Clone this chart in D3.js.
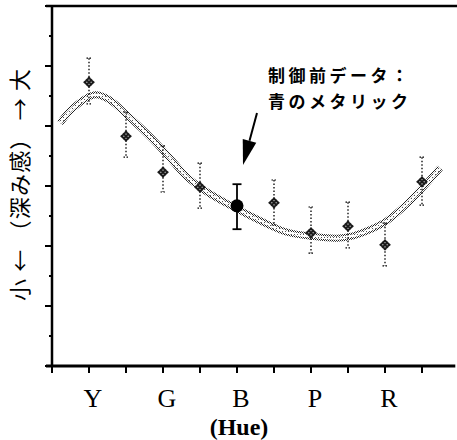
<!DOCTYPE html>
<html>
<head>
<meta charset="utf-8">
<script src="https://cdn.jsdelivr.net/npm/d3@7"></script>
<style>
  body { margin: 0; background: #fff; }
</style>
</head>
<body>
<div id="canvas"></div>
<script>
// hue categories (label every other tick)
var hueLabels = ["Y", "G", "B", "P", "R"];
var hueTicks  = [1, 3, 5, 7, 9];

// measured points, x = tick index
var ptX  = [1, 2, 3, 4, 5, 6, 7, 8, 9, 10];
var ptY  = [4.73, 3.83, 3.23, 2.98, 2.67, 2.72, 2.22, 2.33, 2.02, 3.07];
var ptLo = [4.37, 3.48, 2.90, 2.63, 2.28, 2.35, 1.88, 1.97, 1.67, 2.68];
var ptHi = [5.13, 4.23, 3.67, 3.38, 3.03, 3.10, 2.65, 2.73, 2.38, 3.48];
var refIndex = 4; // 制御前データ (blue metallic)

// fitted curve
var fitX = [0.22, 0.57, 1.16, 1.57, 2.03, 2.65, 3.11, 3.65, 4.19, 4.81, 5.70, 6.35, 7.05, 7.70, 8.14, 8.59, 9.05, 9.54, 10.03, 10.49];
var fitY = [4.05, 4.30, 4.52, 4.43, 4.18, 3.82, 3.52, 3.15, 2.90, 2.68, 2.40, 2.23, 2.16, 2.13, 2.17, 2.27, 2.42, 2.67, 2.98, 3.30];

var yMajor = [0, 1, 2, 3, 4, 5, 6];
var yMinor = [0.5, 1.5, 2.5, 3.5, 4.5, 5.5];
var xTicks = [0, 1, 2, 3, 4, 5, 6, 7, 8, 9, 10];

var W = 457, H = 440;
var svg = d3.select('#canvas').append('svg')
  .attr('width', W)
  .attr('height', H);

var x = d3.scaleLinear().domain([0, 11]).range([52, 459]);
var y = d3.scaleLinear().domain([0, 6]).range([366, 6]);

var defs = svg.append('defs');
var checker = defs.append('pattern')
  .attr('id', 'checker').attr('patternUnits', 'userSpaceOnUse')
  .attr('width', 2).attr('height', 2);
checker.append('rect').attr('width', 2).attr('height', 2).attr('fill', '#fff');
checker.append('rect').attr('width', 1).attr('height', 1).attr('fill', '#222');
checker.append('rect').attr('x', 1).attr('y', 1).attr('width', 1).attr('height', 1).attr('fill', '#222');

var sparse = defs.append('pattern')
  .attr('id', 'sparse').attr('patternUnits', 'userSpaceOnUse')
  .attr('width', 3).attr('height', 3);
sparse.append('rect').attr('width', 3).attr('height', 3).attr('fill', '#fff');
sparse.append('rect').attr('width', 1).attr('height', 1).attr('fill', '#555');

var dots = defs.append('pattern')
  .attr('id', 'dots').attr('patternUnits', 'userSpaceOnUse')
  .attr('width', 3).attr('height', 3);
dots.append('rect').attr('width', 3).attr('height', 3).attr('fill', '#1a1a1a');
dots.append('rect').attr('x', 1).attr('y', 1).attr('width', 1).attr('height', 1).attr('fill', '#fff');

// frame: left axis, top line, bottom axis
svg.append('line')
  .attr('x1', x(0)).attr('y1', y(6)).attr('x2', x(0)).attr('y2', y(0))
  .attr('stroke', '#000').attr('stroke-width', 2.5);
svg.append('line')
  .attr('x1', 46).attr('y1', y(6)).attr('x2', W).attr('y2', y(6))
  .attr('stroke', '#000').attr('stroke-width', 2.5);
svg.append('line')
  .attr('x1', 46).attr('y1', y(0)).attr('x2', x(10.9)).attr('y2', y(0))
  .attr('stroke', '#000').attr('stroke-width', 3);

svg.selectAll('line.ymaj').data(yMajor).enter().append('line')
  .attr('class', 'ymaj')
  .attr('x1', 45).attr('x2', x(0))
  .attr('y1', function (d) { return y(d); })
  .attr('y2', function (d) { return y(d); })
  .attr('stroke', '#000').attr('stroke-width', 2);
svg.selectAll('line.ymin').data(yMinor).enter().append('line')
  .attr('class', 'ymin')
  .attr('x1', 49).attr('x2', x(0))
  .attr('y1', function (d) { return y(d); })
  .attr('y2', function (d) { return y(d); })
  .attr('stroke', '#000').attr('stroke-width', 2);

svg.selectAll('line.xt').data(xTicks).enter().append('line')
  .attr('class', 'xt')
  .attr('x1', function (d) { return x(d); })
  .attr('x2', function (d) { return x(d); })
  .attr('y1', y(0)).attr('y2', y(0) + 7)
  .attr('stroke', '#000').attr('stroke-width', 2);

svg.selectAll('text.hue').data(hueTicks).enter().append('text')
  .attr('class', 'hue')
  .attr('x', function (d) { return x(d) + 4; })
  .attr('y', 407)
  .attr('text-anchor', 'middle')
  .attr('font-family', 'Liberation Serif, serif')
  .attr('font-size', 26)
  .text(function (d, i) { return hueLabels[i]; });

svg.append('text')
  .attr('x', 239).attr('y', 435)
  .attr('text-anchor', 'middle')
  .attr('font-family', 'Liberation Serif, serif')
  .attr('font-weight', 'bold')
  .attr('font-size', 24)
  .text('(Hue)');

svg.append('text')
  .attr('transform', 'translate(28,185) rotate(-90)')
  .attr('text-anchor', 'middle')
  .attr('font-family', 'Noto Sans CJK JP, sans-serif')
  .attr('font-size', 22)
  .attr('textLength', 232).attr('lengthAdjust', 'spacing')
  .text('小 ← （深み感） → 大');

// fitted band: dotted edges, lighter inside
var fit = fitX.map(function (d, i) { return [d, fitY[i]]; });
var line = d3.line()
  .x(function (d) { return x(d[0]); })
  .y(function (d) { return y(d[1]); })
  .curve(d3.curveCatmullRom);
svg.append('path')
  .attr('d', line(fit))
  .attr('fill', 'none')
  .attr('stroke', 'url(#checker)')
  .attr('stroke-width', 7);
svg.append('path')
  .attr('d', line(fit))
  .attr('fill', 'none')
  .attr('stroke', 'url(#sparse)')
  .attr('stroke-width', 3);

var pts = ptX.map(function (d, i) {
  return { x: d, v: ptY[i], lo: ptLo[i], hi: ptHi[i], ref: i === refIndex };
});

// error bars
svg.selectAll('line.err').data(pts).enter().append('line')
  .attr('class', 'err')
  .attr('x1', function (d) { return x(d.x); })
  .attr('x2', function (d) { return x(d.x); })
  .attr('y1', function (d) { return y(d.hi); })
  .attr('y2', function (d) { return y(d.lo); })
  .attr('stroke', '#000')
  .attr('stroke-width', function (d) { return d.ref ? 1.8 : 1.3; })
  .attr('stroke-dasharray', function (d) { return d.ref ? null : '1.5,2'; });

['hi', 'lo'].forEach(function (k) {
  svg.selectAll('line.cap' + k).data(pts).enter().append('line')
    .attr('class', 'cap' + k)
    .attr('x1', function (d) { return x(d.x) - (d.ref ? 4.5 : 2.5); })
    .attr('x2', function (d) { return x(d.x) + (d.ref ? 4.5 : 2.5); })
    .attr('y1', function (d) { return y(d[k]); })
    .attr('y2', function (d) { return y(d[k]); })
    .attr('stroke', '#000')
    .attr('stroke-width', function (d) { return d.ref ? 1.8 : 1.2; })
    .attr('stroke-dasharray', function (d) { return d.ref ? null : '1.5,1.5'; });
});

var diamond = d3.symbol().type(d3.symbolSquare).size(70);
svg.selectAll('path.pt').data(pts.filter(function (d) { return !d.ref; }))
  .enter().append('path')
  .attr('class', 'pt')
  .attr('d', diamond)
  .attr('transform', function (d) { return 'translate(' + x(d.x) + ',' + y(d.v) + ') rotate(45)'; })
  .attr('fill', 'url(#dots)');

svg.selectAll('circle.ref').data(pts.filter(function (d) { return d.ref; }))
  .enter().append('circle')
  .attr('class', 'ref')
  .attr('cx', function (d) { return x(d.x); })
  .attr('cy', function (d) { return y(d.v); })
  .attr('r', 6.5)
  .attr('fill', '#000');

// annotation
var note = svg.append('text')
  .attr('font-family', 'Noto Sans CJK JP, sans-serif')
  .attr('font-weight', 'bold')
  .attr('font-size', 17)
  .attr('letter-spacing', 3.5);
note.append('tspan').attr('x', 268).attr('y', 82).text('制御前データ：');
note.append('tspan').attr('x', 268).attr('y', 108).text('青のメタリック');

var tip = [243, 165], tail = [257, 113];
var dx = tail[0] - tip[0], dy = tail[1] - tip[1];
var len = Math.sqrt(dx * dx + dy * dy);
var ux = dx / len, uy = dy / len;
var bx = tip[0] + ux * 25, by = tip[1] + uy * 25;
svg.append('line')
  .attr('x1', tail[0]).attr('y1', tail[1]).attr('x2', bx).attr('y2', by)
  .attr('stroke', '#000').attr('stroke-width', 2);
svg.append('path')
  .attr('d', 'M' + tip[0] + ',' + tip[1] +
    'L' + (bx - uy * 7) + ',' + (by + ux * 7) +
    'L' + (bx + uy * 7) + ',' + (by - ux * 7) + 'Z')
  .attr('fill', '#000');
</script>
</body>
</html>
